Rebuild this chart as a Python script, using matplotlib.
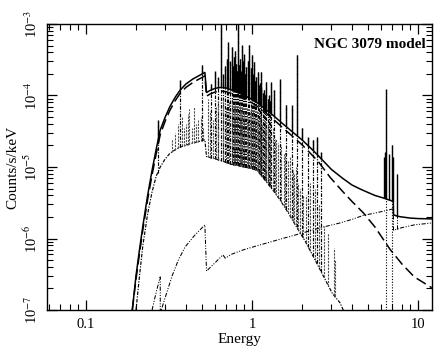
import numpy as np
import matplotlib
matplotlib.use("Agg")
import matplotlib.pyplot as plt

plt.rcParams['font.family'] = ['Liberation Serif', 'DejaVu Serif']
plt.rcParams['mathtext.fontset'] = 'stix'

# ---------------- data ----------------
# total model continuum (solid)
tot_E = [0.19, 0.20, 0.21, 0.22, 0.235, 0.25, 0.265, 0.28, 0.30, 0.32, 0.345, 0.37, 0.40, 0.44,
         0.48, 0.52, 0.532, 0.56, 0.60, 0.65, 0.70, 0.75, 0.82, 0.90, 1.0, 1.1, 1.2, 1.35,
         1.5, 1.75, 2.0, 2.25, 2.5, 2.75, 3.0, 3.5, 4.0, 4.5, 5.0, 5.5, 6.15, 6.6, 7.1,
         7.12, 7.5, 8.0, 9.0, 10.0, 12.1]
tot_F = [1e-7, 3e-7, 7e-7, 1.5e-6, 4e-6, 9e-6, 1.8e-5, 3.3e-5, 5e-5, 7e-5, 9.5e-5, 1.2e-4,
         1.45e-4, 1.7e-4, 1.9e-4, 2.1e-4, 1.1e-4, 1.18e-4, 1.26e-4, 1.3e-4, 1.27e-4, 1.2e-4,
         1.1e-4, 1.0e-4, 8.8e-5, 7.6e-5, 6.5e-5, 5.2e-5, 4.2e-5, 3.1e-5, 2.4e-5, 1.85e-5,
         1.45e-5, 1.15e-5, 9.3e-6, 7e-6, 5.6e-6, 4.9e-6, 4.4e-6, 4.0e-6, 3.7e-6, 3.5e-6,
         3.3e-6, 2.15e-6, 2.05e-6, 2.0e-6, 1.93e-6, 1.9e-6, 1.88e-6]

# soft absorbed power law (dashed)
pl_E = [0.19, 0.20, 0.21, 0.22, 0.235, 0.25, 0.265, 0.28, 0.30, 0.32, 0.345, 0.37, 0.40, 0.44,
        0.48, 0.52, 0.532, 0.56, 0.60, 0.65, 0.70, 0.75, 0.82, 0.90, 1.0, 1.1, 1.2, 1.35,
        1.5, 1.75, 2.0, 2.25, 2.5, 2.95, 3.5, 4.0, 4.67, 5.5, 6.8, 8.0, 9.5, 12.1]
pl_F = [1e-7, 2.7e-7, 6.2e-7, 1.33e-6, 3.5e-6, 7.8e-6, 1.55e-5, 2.85e-5, 4.4e-5, 6.2e-5, 8.5e-5,
        1.08e-4, 1.3e-4, 1.52e-4, 1.7e-4, 1.88e-4, 9.8e-5, 1.05e-4, 1.12e-4, 1.16e-4, 1.13e-4,
        1.07e-4, 9.8e-5, 8.9e-5, 7.9e-5, 6.8e-5, 5.8e-5, 4.6e-5, 3.7e-5, 2.7e-5, 2.05e-5,
        1.55e-5, 1.2e-5, 7.2e-6, 4.6e-6, 3.3e-6, 2.3e-6, 1.45e-6, 7e-7, 4.4e-7, 2.9e-7, 2.05e-7]

# thermal plasma continuum (dash-dot)
th_E = [0.20, 0.21, 0.22, 0.235, 0.25, 0.265, 0.28, 0.30, 0.32, 0.345, 0.37, 0.42, 0.47, 0.52,
        0.532, 0.60, 0.67, 0.74, 0.82, 0.90, 1.0, 1.07, 1.2, 1.35, 1.47, 1.65, 1.87, 2.1,
        2.4, 2.75, 3.05, 3.39, 3.7]
th_F = [1e-7, 3e-7, 8e-7, 2.2e-6, 4.5e-6, 7.5e-6, 1e-5, 1.3e-5, 1.55e-5, 1.75e-5, 1.9e-5,
        2.1e-5, 2.25e-5, 2.4e-5, 1.4e-5, 1.3e-5, 1.2e-5, 1.1e-5, 1.05e-5, 1.0e-5, 9.5e-6,
        9e-6, 6.5e-6, 4.6e-6, 3.5e-6, 2.3e-6, 1.4e-6, 9e-7, 5e-7, 2.7e-7, 1.7e-7, 1.26e-7, 8e-8]

# hard absorbed component (dash-dot-dot)
hd_E = [0.25, 0.265, 0.28, 0.2801, 0.30, 0.33, 0.36, 0.395, 0.45, 0.52, 0.532, 0.60, 0.668,
        0.69, 0.75, 0.88, 1.05, 1.28, 1.6, 2.03, 2.6, 3.39, 4.0, 4.67, 5.4, 6.15, 7.1, 7.12,
        8.0, 9.5, 12.1]
hd_F = [1e-7, 1.8e-7, 2.9e-7, 9e-8, 1.5e-7, 3e-7, 5e-7, 7.6e-7, 1.1e-6, 1.55e-6, 3.5e-7,
        4.6e-7, 5.9e-7, 5.3e-7, 6e-7, 6.9e-7, 7.8e-7, 8.9e-7, 1.03e-6, 1.2e-6, 1.42e-6,
        1.65e-6, 1.85e-6, 2.1e-6, 2.25e-6, 2.4e-6, 2.6e-6, 1.3e-6, 1.42e-6, 1.55e-6, 1.65e-6]

# emission lines visible in the total model (energy keV, peak counts/s/keV)
line_E = [0.27, 0.368, 0.498, 0.57, 0.60, 0.625, 0.648, 0.665, 0.69, 0.705, 0.72, 0.735, 0.755,
          0.765, 0.78, 0.79, 0.80, 0.81, 0.82, 0.835, 0.845, 0.855, 0.867, 0.88, 0.90, 0.91,
          0.92, 0.94, 0.96, 0.98, 1.0, 1.015, 1.03, 1.045, 1.06, 1.08, 1.095, 1.11, 1.125,
          1.14, 1.165, 1.18, 1.195, 1.21, 1.24, 1.26, 1.28, 1.31, 1.35, 1.47, 1.60, 1.73,
          1.86, 2.0, 2.18, 2.33, 2.46, 2.62]
line_P = [4.5e-5, 1.65e-4, 2.7e-4, 1.45e-4, 2.2e-4, 1.8e-4, 1.2e-3, 2.0e-4, 2.6e-4, 3.2e-4,
          5.6e-4, 3e-4, 4.8e-4, 2.6e-4, 3.5e-4, 4.2e-4, 2.8e-4, 2.2e-4, 1.1e-3, 2.7e-4,
          3.2e-4, 2.2e-4, 5.1e-4, 3.0e-4, 3.8e-4, 2.0e-4, 2.5e-4, 3.0e-4, 5.1e-4, 2.4e-4,
          3.7e-4, 2.0e-4, 2.9e-4, 1.6e-4, 1.8e-4, 2.1e-4, 1.4e-4, 1.5e-4, 1.3e-4, 2.1e-4,
          1.1e-4, 1.2e-4, 1.0e-4, 1.55e-4, 9e-5, 1.0e-4, 8.5e-5, 1.55e-4, 1.2e-4, 1.7e-4,
          7.4e-5, 7.4e-5, 3.65e-4, 3.5e-5, 2.6e-5, 2.4e-5, 2.6e-5, 1.6e-5]

# weaker thermal lines that stay below the total model
weak_E = [0.33, 0.345, 0.36, 0.38, 0.39, 0.40, 0.41, 0.42, 0.435, 0.45, 0.46, 0.47, 0.49,
          0.51, 0.545, 0.56, 0.585, 0.61, 0.62, 0.67, 0.70, 0.73, 0.76, 0.775, 0.795, 0.815,
          0.85, 0.86, 0.875, 0.895, 0.93, 0.95, 0.97, 0.99, 1.01, 1.04, 1.07, 1.09, 1.12,
          1.15, 1.19, 1.22, 1.24, 1.29, 1.33, 1.38, 1.4, 1.43, 1.5, 1.55, 1.58, 1.65, 1.7,
          1.77, 1.8, 1.83, 1.9, 1.95, 2.03, 2.1, 2.25, 2.4, 2.52, 2.7, 2.88, 3.1, 3.14]
weak_P = [2.5e-5, 3e-5, 4e-5, 5e-5, 3.5e-5, 4e-5, 5.5e-5, 6.5e-5, 3.5e-5, 7e-5, 4e-5, 4.5e-5,
          5e-5, 3.5e-5, 9e-5, 6e-5, 4.5e-5, 7e-5, 8e-5, 9e-5, 7e-5, 8e-5, 9e-5, 7e-5, 8e-5,
          7e-5, 8e-5, 6e-5, 7e-5, 6e-5, 7e-5, 5e-5, 6e-5, 7e-5, 6e-5, 5e-5, 6e-5, 4.5e-5,
          5e-5, 4e-5, 4.5e-5, 3.5e-5, 4e-5, 3e-5, 3.5e-5, 2.5e-5, 2.5e-5, 2.2e-5, 2e-5,
          1.5e-5, 1.7e-5, 1.2e-5, 1.4e-5, 9e-6, 8e-6, 1e-5, 6e-6, 5e-6, 4e-6, 4e-6, 6e-6,
          5e-6, 3e-6, 1.5e-6, 1.2e-6, 7.4e-7, 5e-7]

# iron K region lines on the total model
fe_E = [6.2, 6.3, 6.4, 6.68, 6.95, 7.06, 7.45]
fe_P = [1.4e-5, 1.6e-5, 1.25e-4, 1.5e-5, 2e-5, 1.4e-5, 8e-6]

# narrow gaussian components (dotted)
gau_E = [6.4, 6.95]
gau_P = [1.25e-4, 2e-5]

# hard-component lines
hl_E = [7.06, 7.45]
hl_P = [1.2e-5, 8e-6]

xtick_vals = [0.1, 1, 10]
xtick_labels = ['0.1', '1', '10']
ytick_vals = [1e-7, 1e-6, 1e-5, 1e-4, 1e-3]
ytick_labels = [r'10$^{-7}$', r'10$^{-6}$', r'10$^{-5}$', r'10$^{-4}$', r'10$^{-3}$']
title_text = 'NGC 3079 model'


def base_at(E, cE, cF):
    return 10 ** np.interp(np.log10(E), np.log10(cE), np.log10(cF))


fig = plt.figure(figsize=(4.36, 3.48), dpi=100)
ax = fig.add_axes([47 / 436, 38 / 348, 385 / 436, 286 / 348])
ax.set_xscale('log')
ax.set_yscale('log')

k = 'black'
# thermal component
th_style = dict(color=k, lw=0.85, linestyle=(0, (3, 1.2, 1, 1.2)))
ax.plot(th_E, th_F, **th_style)
tb = base_at(np.array(line_E), th_E, th_F)
ax.vlines(line_E, tb, line_P, **th_style)
wb = base_at(np.array(weak_E), th_E, th_F)
ax.vlines(weak_E, wb, weak_P, color='0.3', lw=0.8, linestyle=(0, (2, 1)))

# hard component
hd_style = dict(color=k, lw=0.75, linestyle=(0, (4, 1.5, 1, 1.5, 1, 1.5)))
ax.plot(hd_E, hd_F, **hd_style)
ax.vlines(hl_E, base_at(np.array(hl_E), hd_E, hd_F), hl_P, **hd_style)

# gaussian iron lines
ax.vlines(gau_E, 1e-8, gau_P, color=k, lw=0.8, linestyle=(0, (1, 1.5)))

# soft power law
ax.plot(pl_E, pl_F, color=k, lw=1.1, linestyle=(0, (7, 3)))

# total model
ax.plot(tot_E, tot_F, color=k, lw=1.1)
allE = np.array(line_E + fe_E)
allP = np.array(line_P + fe_P)
ax.vlines(allE, base_at(allE, tot_E, tot_F), allP, color=k, lw=1.0)

ax.set_xlim(0.0582, 12.14)
ax.set_ylim(1e-7, 1e-3)

ax.set_xticks(xtick_vals)
ax.set_xticklabels(xtick_labels)
ax.set_yticks(ytick_vals)
ax.set_yticklabels(ytick_labels, rotation=90, va='center')

ax.tick_params(which='both', direction='in', top=True, right=True, labelsize=10.5)
ax.tick_params(which='major', length=7, width=0.9)
ax.tick_params(which='minor', length=4, width=0.8)
ax.tick_params(axis='x', which='major', pad=6)
ax.tick_params(axis='y', which='major', pad=5)
for s in ax.spines.values():
    s.set_linewidth(1.0)

ax.set_xlabel('Energy', fontsize=11, labelpad=1)
ax.set_ylabel('Counts/s/keV', fontsize=11, labelpad=2)
ax.text(0.985, 0.93, title_text, transform=ax.transAxes, ha='right', va='center',
        fontsize=11, fontweight='bold')

fig.savefig('out.png', dpi=100)
